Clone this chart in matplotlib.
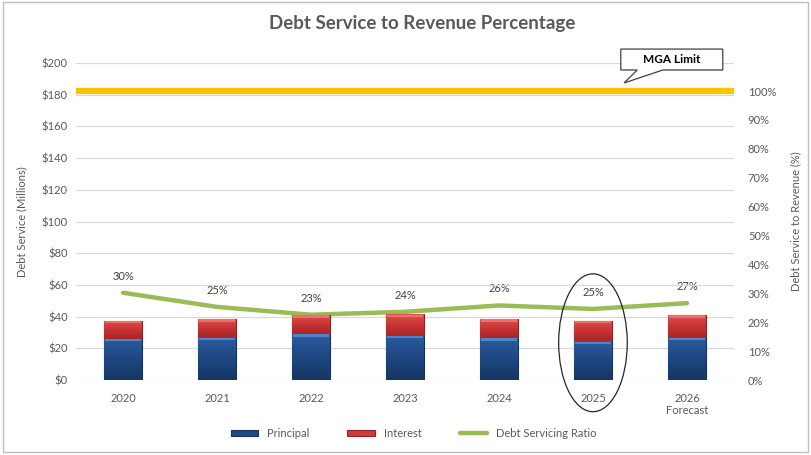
import matplotlib.pyplot as plt
from matplotlib.patches import Ellipse, Rectangle, Polygon
from matplotlib.colors import LinearSegmentedColormap
import numpy as np

plt.rcParams['font.family'] = ['Lato', 'DejaVu Sans']

years = ['2020', '2021', '2022', '2023', '2024', '2025', '2026\nForecast']
principal = [26.0, 27.0, 29.0, 28.0, 26.5, 24.5, 27.0]
interest = [11.5, 11.5, 12.0, 13.5, 12.0, 13.0, 14.0]
ratio = [30.2, 25.3, 22.6, 23.6, 25.8, 24.6, 26.6]
mga_limit = 100

gray = '#595959'
x = np.arange(len(years))

fig = plt.figure(figsize=(8.11, 4.55), dpi=100)
ax = fig.add_axes([0.0937, 0.1648, 0.8113, 0.6967])
ax2 = ax.twinx()

ax.set_zorder(ax2.get_zorder() + 1)
ax.patch.set_visible(False)

# stacked bars
w = 0.4
pb = ax.bar(x, principal, w, color='#1F4A86', edgecolor='#14335e', linewidth=0.8,
            label='Principal', zorder=3)
ib = ax.bar(x, interest, w, bottom=principal, color='#D23B3B', edgecolor='#8e2222', linewidth=0.8,
            label='Interest', zorder=3)

# shaded fill inside each bar segment, darker towards the bottom
blue_cm = LinearSegmentedColormap.from_list('b', ['#163663', '#1E4782', '#2B5C9E'])
red_cm = LinearSegmentedColormap.from_list('r', ['#A82626', '#C93333', '#E05050'])
grad = np.linspace(0, 1, 64).reshape(-1, 1)
for bars, cm in ((pb, blue_cm), (ib, red_cm)):
    for b in bars:
        x0, y0 = b.get_x(), b.get_y()
        im = ax.imshow(grad, cmap=cm, aspect='auto', zorder=3.5, interpolation='bilinear',
                       extent=(x0, x0 + b.get_width(), y0 + b.get_height(), y0), origin='upper')
        im.set_clip_path(b)
for i in range(len(x)):
    ax.add_patch(Rectangle((x[i] - w / 2 + 0.01, principal[i] - 1.6), w - 0.02, 1.4,
                           color='#5B8ED6', alpha=0.8, zorder=4, lw=0))
    ax.add_patch(Rectangle((x[i] - w / 2 + 0.01, principal[i] + interest[i] - 1.6), w - 0.02, 1.4,
                           color='#F07A7A', alpha=0.8, zorder=4, lw=0))

ax.set_ylim(0, 200)
ax.set_xlim(-0.5, len(x) - 0.5)
ax.set_yticks(range(0, 201, 20))
ax.set_yticklabels([f'${v}' for v in range(0, 201, 20)])
ax.set_xticks(x)
ax.set_xticklabels(years)
ax.grid(axis='y', color='#D9D9D9', linewidth=0.9, zorder=0)
ax.set_axisbelow(True)
ax.tick_params(length=0, labelsize=8, colors=gray, pad=6)
ax.tick_params(axis='x', pad=9)
for s in ax.spines.values():
    s.set_visible(False)
ax.set_ylabel('Debt Service (Millions)', fontsize=8, color=gray, labelpad=10)

# ratio line and MGA limit on the right axis
ax2.set_ylim(0, 109.7)
ax2.plot(x, ratio, color='#9BBB59', linewidth=3.2, zorder=5, solid_capstyle='round',
         label='Debt Servicing Ratio')
ax2.axhline(mga_limit, color='#FFC000', linewidth=4.5, zorder=2)
for xi, r in zip(x, ratio):
    ax2.annotate(f'{r:.0f}%', (xi, r), xytext=(0, 8), textcoords='offset points',
                 ha='center', va='bottom', fontsize=8, color='#404040')
ax2.set_yticks(range(0, 101, 10))
ax2.set_yticklabels([f'{v}%' for v in range(0, 101, 10)])
ax2.tick_params(length=0, labelsize=8, colors=gray, pad=10)
for s in ax2.spines.values():
    s.set_visible(False)
ax2.set_ylabel('Debt Service to Revenue (%)', fontsize=8, color=gray, labelpad=10)

# callout
ax.add_patch(Polygon([[0.828, 0.978], [0.828, 1.044], [0.983, 1.044], [0.983, 0.978],
                      [0.892, 0.978], [0.833, 0.937], [0.853, 0.978]],
                     closed=True, transform=ax.transAxes, facecolor='white',
                     edgecolor='#404040', linewidth=0.9, clip_on=False, zorder=6))
ax.text(0.906, 1.012, 'MGA Limit', transform=ax.transAxes, ha='center', va='center',
        fontsize=8.5, fontweight='bold', color='black', zorder=7)

# ellipse around 2025
ax.add_patch(Ellipse((5, 23.5), 0.73, 87, fill=False, edgecolor='#262626', linewidth=0.9,
                     clip_on=False, zorder=6))

fig.text(0.52, 0.948, 'Debt Service to Revenue Percentage', ha='center', va='center',
         fontsize=13.5, fontweight='bold', color=gray)

h1, l1 = ax.get_legend_handles_labels()
h2, l2 = ax2.get_legend_handles_labels()
fig.legend(h1 + h2, l1 + l2, loc='center', bbox_to_anchor=(0.51, 0.048), ncol=3,
           frameon=False, fontsize=8, labelcolor=gray, handlelength=2.5, columnspacing=3.4,
           handletextpad=0.8, handleheight=0.5)

fig.add_artist(Rectangle((0.004, 0.006), 0.992, 0.99, transform=fig.transFigure,
                         fill=False, edgecolor='#BFBFBF', linewidth=1))

fig.savefig('out.png', dpi=100)
